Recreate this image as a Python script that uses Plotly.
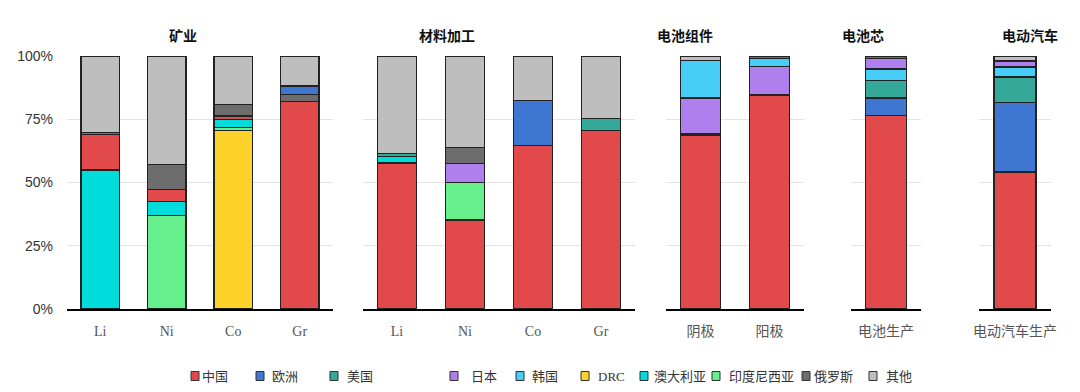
import plotly.graph_objects as go

# ---------------- data ----------------
panels = ['矿业', '材料加工', '电池组件', '电池芯', '电动汽车']
panel_categories = [
    ['Li', 'Ni', 'Co', 'Gr'],
    ['Li', 'Ni', 'Co', 'Gr'],
    ['阴极', '阳极'],
    ['电池生产'],
    ['电动汽车生产'],
]
series = ['中国', '欧洲', '美国', '日本', '韩国', 'DRC', '澳大利亚', '印度尼西亚', '俄罗斯', '其他']

# values for the 12 bars, in panel order (矿业 x4, 材料加工 x4, 阴极, 阳极, 电池生产, 电动汽车生产)
china     = [14.0, 4.6, 1.5, 82.0, 57.7, 35.2, 64.6, 70.5, 68.5, 84.3, 76.4, 54.1]
europe    = [0.8, 0, 0, 3.3, 0, 0, 17.8, 0, 0.7, 0.6, 7.0, 27.6]
usa       = [0, 0, 0, 0, 1.2, 0, 0, 4.7, 0, 0, 6.8, 10.0]
japan     = [0, 0, 0, 0, 0, 7.6, 0, 0, 14.2, 10.9, 4.3, 2.4]
korea     = [0, 0, 0, 0, 0, 0, 0, 0, 14.8, 3.3, 4.6, 3.9]
drc       = [0, 0, 70.6, 0, 0, 0, 0, 0, 0, 0, 0, 0]
australia = [55.0, 5.6, 3.0, 0, 2.6, 0, 0, 0, 0, 0, 0, 0]
indonesia = [0, 37.0, 1.2, 0, 0, 14.7, 0, 0, 0, 0, 0, 0]
russia    = [0, 9.8, 4.6, 2.8, 0, 6.4, 0, 0, 0, 0.9, 0.9, 0]
others    = [30.2, 43.0, 19.1, 11.9, 38.5, 36.1, 17.6, 24.8, 1.8, 0, 0, 2.0]

values = {
    '中国': china, '欧洲': europe, '美国': usa, '日本': japan, '韩国': korea,
    'DRC': drc, '澳大利亚': australia, '印度尼西亚': indonesia, '俄罗斯': russia, '其他': others,
}

# stacking order (bottom -> top) used in each panel
stack_orders = [
    ['DRC', '印度尼西亚', '澳大利亚', '中国', '俄罗斯', '欧洲', '美国', '日本', '韩国', '其他'],
    ['中国', '欧洲', '印度尼西亚', '澳大利亚', '美国', '日本', '韩国', '俄罗斯', '其他'],
    ['中国', '欧洲', '印度尼西亚', '澳大利亚', '美国', '日本', '韩国', '俄罗斯', '其他'],
    ['中国', '欧洲', '美国', '韩国', '日本', '俄罗斯', '其他'],
    ['中国', '欧洲', '美国', '韩国', '日本', '俄罗斯', '其他'],
]

y_ticks = [0, 25, 50, 75, 100]
y_tick_labels = ['0%', '25%', '50%', '75%', '100%']

# ---------------- styles ----------------
colors = {
    '中国': '#E2494A', '欧洲': '#3F76D2', '美国': '#34A99A', '日本': '#B07FEE',
    '韩国': '#46CEF8', 'DRC': '#FDD22A', '澳大利亚': '#00DCDC', '印度尼西亚': '#67EF8E',
    '俄罗斯': '#6D6D6D', '其他': '#BEBEBE',
}
W, H = 1080, 392
panel_px = [(67, 333), (363, 635), (666, 804), (851, 921), (979, 1051)]
plot_top, plot_bottom = 56, 309
title_px = [(183, 35), (447, 35), (685, 35), (863, 35), (1030, 35)]
legend_square_left = [191, 256, 330, 450, 516, 581, 640, 712, 802, 869]
legend_text_left = [200, 270, 345, 469, 530, 596, 652, 727, 812, 884]
legend_y = 376

CJK = 'Noto Sans CJK SC'
fig = go.Figure()

offset = 0
for i, (cats, order) in enumerate(zip(panel_categories, stack_orders)):
    n = len(cats)
    xid = 'x' if i == 0 else f'x{i + 1}'
    yid = 'y' if i == 0 else f'y{i + 1}'
    for s in order:
        vals = values[s][offset:offset + n]
        vals = [v if v else None for v in vals]
        if all(v is None for v in vals):
            continue
        fig.add_trace(go.Bar(
            x=cats, y=vals, name=s, xaxis=xid, yaxis=yid,
            marker=dict(color=colors[s], line=dict(color='#222222', width=1.4)),
            showlegend=False, hovertemplate=s + ': %{y}%<extra></extra>',
        ))
    offset += n

    x0, x1 = panel_px[i]
    xkey = 'xaxis' if i == 0 else f'xaxis{i + 1}'
    ykey = 'yaxis' if i == 0 else f'yaxis{i + 1}'
    fig.layout[xkey] = dict(
        domain=[x0 / W, x1 / W], anchor=yid, type='category',
        categoryorder='array', categoryarray=cats,
        showline=True, linecolor='#000000', linewidth=2, ticks='',
        showgrid=False, zeroline=False, automargin=False,
        tickfont=dict(family='Liberation Serif, ' + CJK, size=14, color='#555555'),
        ticklabelstandoff=8,
    )
    fig.layout[ykey] = dict(
        domain=[(H - plot_bottom) / H, (H - plot_top) / H], anchor=xid,
        range=[0, 100], showgrid=True, gridcolor='#E4E4E4', gridwidth=1,
        zeroline=False, showline=False, ticks='', automargin=False,
        tickvals=y_ticks, ticktext=y_tick_labels, showticklabels=(i == 0),
        tickfont=dict(family='Liberation Sans, Arial', size=14, color='#333333'),
        ticklabelstandoff=13,
    )
    tx, ty = title_px[i]
    fig.add_annotation(
        x=tx / W, y=1 - ty / H, xref='paper', yref='paper', text=panels[i],
        showarrow=False, xanchor='center', yanchor='middle',
        font=dict(family=CJK, size=14, color='#111111', weight='bold'),
    )

# manual legend
for s, sq, tx in zip(series, legend_square_left, legend_text_left):
    fig.add_shape(
        type='rect', xref='paper', yref='paper',
        x0=sq / W, x1=(sq + 8) / W,
        y0=1 - (legend_y + 4.5) / H, y1=1 - (legend_y - 4.5) / H,
        fillcolor=colors[s], line=dict(color='#333333', width=1),
    )
    fig.add_annotation(
        x=tx / W, y=1 - legend_y / H, xref='paper', yref='paper', text=s,
        showarrow=False, xanchor='left', yanchor='middle',
        font=dict(family='Liberation Serif, ' + CJK, size=13, color='#333333'),
    )

fig.update_layout(
    width=W, height=H, margin=dict(l=0, r=0, t=0, b=0, pad=0, autoexpand=False),
    barmode='stack', bargap=0.42,
    plot_bgcolor='#FFFFFF', paper_bgcolor='#FFFFFF',
    showlegend=False,
)

fig.write_html(
    'out.html',
    config={'displayModeBar': False},
    post_script="document.body.style.margin='0';document.body.style.overflow='hidden';",
)
